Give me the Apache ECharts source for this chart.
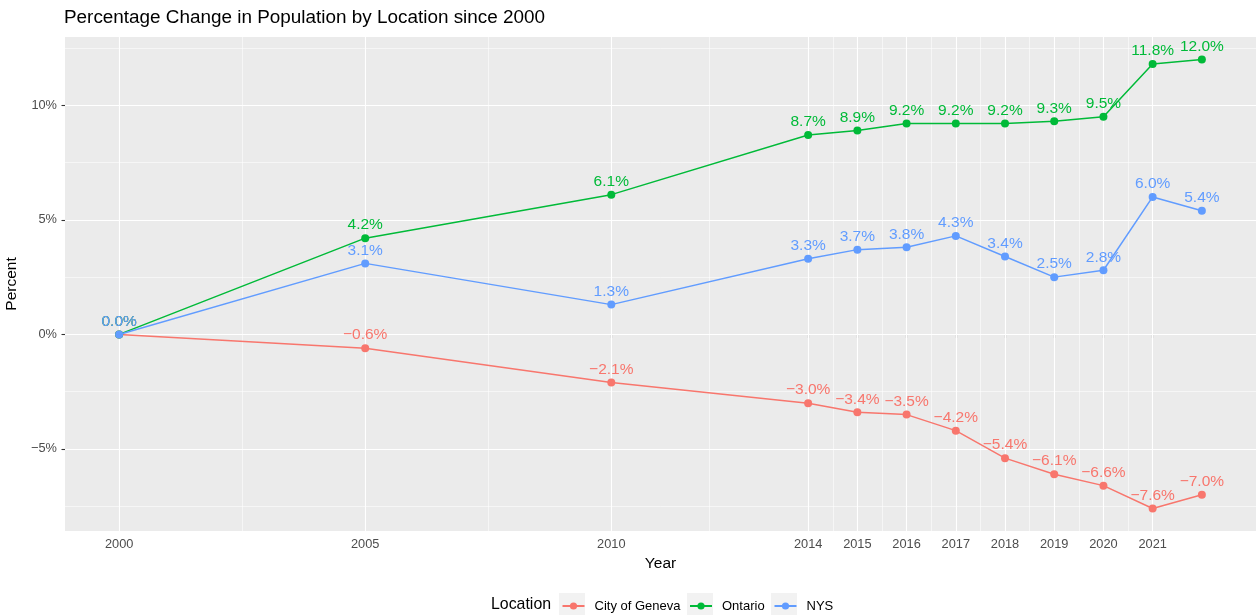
<!DOCTYPE html>
<html>
<head>
<meta charset="utf-8">
<script src="https://cdn.jsdelivr.net/npm/echarts@6/dist/echarts.min.js"></script>
<style>
html,body{margin:0;padding:0;background:#fff;}
#chart{width:1256px;height:615px;}
</style>
</head>
<body>
<div id="chart"></div>
<script>
const years = [2000, 2005, 2010, 2014, 2015, 2016, 2017, 2018, 2019, 2020, 2021, 2022];
const geneva = [0, -0.6, -2.1, -3.0, -3.4, -3.5, -4.2, -5.4, -6.1, -6.6, -7.6, -7.0];
const ontario = [0, 4.2, 6.1, 8.7, 8.9, 9.2, 9.2, 9.2, 9.3, 9.5, 11.8, 12.0];
const nys = [0, 3.1, 1.3, 3.3, 3.7, 3.8, 4.3, 3.4, 2.5, 2.8, 6.0, 5.4];
const seriesNames = ['City of Geneva', 'Ontario', 'NYS'];
const xTicks = [2000, 2005, 2010, 2014, 2015, 2016, 2017, 2018, 2019, 2020, 2021];
const xMinor = [2002.5, 2007.5, 2012, 2014.5, 2015.5, 2016.5, 2017.5, 2018.5, 2019.5, 2020.5];
const yTicks = [-5, 0, 5, 10];
const yMinor = [-7.5, -2.5, 2.5, 7.5, 12.5];

const FONT = "'Liberation Sans', Arial, Helvetica, sans-serif";
const colors = ['#F8766D', '#00BA38', '#619CFF'];
const minus = s => s.replace('-', '\u2212');
const pctLabel = v => minus(v.toFixed(1)) + '%';

const chart = echarts.init(document.getElementById('chart'), null, {renderer: 'canvas'});

function makeSeries(name, vals, color) {
  return {
    name: name,
    type: 'line',
    data: years.map((y, i) => [y, vals[i]]),
    symbol: 'circle',
    symbolSize: 8,
    showSymbol: true,
    itemStyle: {color: color},
    lineStyle: {color: color, width: 1.5},
    z: 3,
    label: {
      show: true,
      position: 'top',
      distance: 1,
      color: color,
      fontFamily: FONT,
      fontSize: 15.5,
      formatter: p => pctLabel(p.value[1])
    },
    emphasis: {disabled: true},
    animation: false
  };
}

const gridLineData = []
  .concat(xMinor.map(v => ({xAxis: v, lineStyle: {width: 0.55}})))
  .concat(yMinor.map(v => ({yAxis: v, lineStyle: {width: 0.55}})))
  .concat(xTicks.map(v => ({xAxis: v, lineStyle: {width: 1.1}})))
  .concat(yTicks.map(v => ({yAxis: v, lineStyle: {width: 1.1}})));

const option = {
  backgroundColor: '#ffffff',
  animation: false,
  textStyle: {fontFamily: FONT},
  title: {
    text: 'Percentage Change in Population by Location since 2000',
    left: 64, top: 8, padding: 0,
    textStyle: {fontFamily: FONT, fontSize: 18.9, fontWeight: 'normal', color: '#000'}
  },
  grid: {
    left: 65, right: 0, top: 37, bottom: 84,
    containLabel: false,
    outerBoundsMode: 'none',
    show: true, backgroundColor: '#EBEBEB', borderWidth: 0
  },
  xAxis: {
    type: 'value',
    min: 1998.9, max: 2023.1,
    name: 'Year', nameLocation: 'middle', nameGap: 23,
    nameTextStyle: {fontFamily: FONT, fontSize: 15.5, color: '#000'},
    axisLine: {show: false},
    axisTick: {show: true, customValues: xTicks, length: 3.5, lineStyle: {color: '#333', width: 1.1}},
    axisLabel: {show: true, customValues: xTicks, margin: 7, color: '#4D4D4D', fontFamily: FONT, fontSize: 12.8,
      formatter: v => String(v)},
    splitLine: {show: false}
  },
  yAxis: {
    type: 'value',
    min: -8.58, max: 12.98,
    name: 'Percent', nameLocation: 'middle', nameGap: 41, nameRotate: 90,
    nameTextStyle: {fontFamily: FONT, fontSize: 15.5, color: '#000'},
    axisLine: {show: false},
    axisTick: {show: true, customValues: yTicks, length: 3.5, lineStyle: {color: '#333', width: 1.1}},
    axisLabel: {show: true, customValues: yTicks, margin: 8, color: '#4D4D4D', fontFamily: FONT, fontSize: 12.8,
      formatter: v => minus(String(v)) + '%'},
    splitLine: {show: false}
  },
  legend: seriesNames.map((n, i) => ({
    data: [n],
    left: [561.5, 689, 773.5][i],
    top: 598,
    padding: 0,
    itemWidth: 22,
    itemHeight: 9,
    selectedMode: false,
    textStyle: {fontFamily: FONT, fontSize: 13, color: '#000', lineHeight: 16, padding: [0, 0, 0, 5]}
  })),
  graphic: [
    {type: 'text', left: 491, top: 597, style: {text: 'Location', font: '15.9px ' + FONT, fill: '#000'}},
    {type: 'rect', shape: {x: 559, y: 593, width: 26, height: 26}, style: {fill: '#F2F2F2'}, z: -1},
    {type: 'rect', shape: {x: 687, y: 593, width: 26, height: 26}, style: {fill: '#F2F2F2'}, z: -1},
    {type: 'rect', shape: {x: 771, y: 593, width: 26, height: 26}, style: {fill: '#F2F2F2'}, z: -1}
  ],
  series: [
    {
      name: '_grid',
      type: 'line',
      data: [],
      silent: true,
      z: 1,
      markLine: {
        silent: true,
        z: 1,
        symbol: 'none',
        animation: false,
        label: {show: false},
        emphasis: {disabled: true},
        lineStyle: {color: '#ffffff', type: 'solid'},
        data: gridLineData
      }
    },
    makeSeries(seriesNames[0], geneva, colors[0]),
    makeSeries(seriesNames[1], ontario, colors[1]),
    makeSeries(seriesNames[2], nys, colors[2])
  ]
};
chart.setOption(option);
</script>
</body>
</html>
